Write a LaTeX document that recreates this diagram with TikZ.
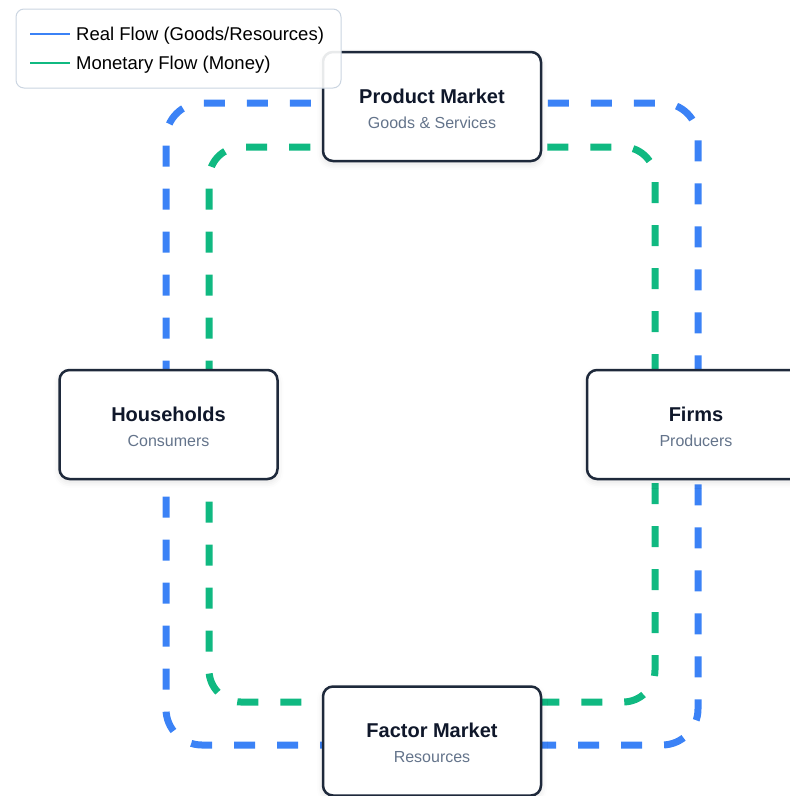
\documentclass[tikz,border=0pt]{standalone}
\usepackage{fontspec}
\setmainfont{Liberation Sans}
\usepackage{xcolor}
\usetikzlibrary{positioning,calc,backgrounds,shadows.blur}

\definecolor{realblue}{HTML}{3B82F6}
\definecolor{moneygreen}{HTML}{10B981}
\definecolor{boxborder}{HTML}{1E293B}
\definecolor{titletext}{HTML}{0F172A}
\definecolor{subtext}{HTML}{64748B}
\definecolor{legendborder}{HTML}{CBD5E1}

\newcommand{\sectortitle}[1]{{\fontsize{20}{25}\selectfont\bfseries\color{titletext}#1}}

\begin{document}
\begin{tikzpicture}[
      x=1pt, y=-1pt,
      node distance=6pt,
      sector/.style={draw=boxborder, line width=2.5pt, fill=white, rounded corners=10pt,
        minimum width=218pt, minimum height=109pt, align=center,
        font=\fontsize{16}{25}\selectfont, text=subtext, text height=44pt,
        blur shadow={shadow xshift=0pt, shadow yshift=-3pt, shadow opacity=12, shadow blur radius=6pt}},
      realflow/.style={realblue, line width=7pt, dash pattern=on 21pt off 22pt, rounded corners=36pt},
      moneyflow/.style={moneygreen, line width=7pt, dash pattern=on 21pt off 22pt, rounded corners=32pt},
      legendbox/.style={draw=legendborder, line width=1pt, fill=white, fill opacity=0.9, rounded corners=8pt},
      legendtext/.style={font=\fontsize{18.5}{22}\selectfont, text=black, inner sep=0pt, yshift=-1.5pt}
      ]

      \useasboundingbox (0,0) rectangle (790,796);

      \node[sector] (product) at (432,106.5) {\sectortitle{Product Market}\\Goods \& Services};
      \node[sector] (households) at (168.5,424.5) {\sectortitle{Households}\\Consumers};
      \node[sector] (firms) at (696,424.5) {\sectortitle{Firms}\\Producers};
      \node[sector] (factor) at (432,741) {\sectortitle{Factor Market}\\Resources};

      % flows behind the boxes
      \coordinate (rleft) at ($(households.center)+(-2.5,0)$);
      \coordinate (rtop) at ($(product.center)+(0,-3.5)$);
      \coordinate (rright) at ($(firms.center)+(2,0)$);
      \coordinate (rbottom) at ($(factor.center)+(0,4)$);
      \coordinate (mleft) at ($(households.center)+(40.5,0)$);
      \coordinate (mtop) at ($(product.center)+(0,40.5)$);
      \coordinate (mright) at ($(firms.center)+(-41,0)$);
      \coordinate (mbottom) at ($(factor.center)+(0,-39)$);
      \begin{scope}[on background layer]
        \draw[realflow] (rleft) |- (rtop) -| (rright) |- (rbottom) -| (rleft);
        \draw[moneyflow] (mleft) |- (mtop) -| (mright) |- (mbottom) -| (mleft);
      \end{scope}

      % legend
      \node[legendbox, minimum width=325pt, minimum height=79pt, anchor=north west] (legend) at (15.5,8.5) {};
      \coordinate (realstart) at (30,34);
      \coordinate (realend) at (70,34);
      \coordinate (moneystart) at (30,63);
      \coordinate (moneyend) at (70,63);
      \draw[realblue, line width=1.2pt] (realstart) -- (realend);
      \draw[moneygreen, line width=1.2pt] (moneystart) -- (moneyend);
      \node[legendtext, right=6pt of realend] (reallabel) {Real Flow (Goods/Resources)};
      \node[legendtext, right=6pt of moneyend] (moneylabel) {Monetary Flow (Money)};

    \end{tikzpicture}
\end{document}
